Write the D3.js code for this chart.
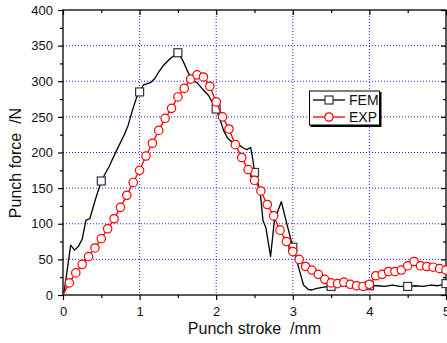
<!DOCTYPE html>
<html lang="en">
<head>
  <meta charset="utf-8" />
  <title>Punch force vs punch stroke</title>
  <style>
    html,body{margin:0;padding:0;background:#fff;}
    svg{display:block;font-family:"Liberation Sans",Arial,sans-serif;}
    .tick text{font-size:13px;fill:#111;}
  </style>
</head>
<body>
  <svg id="chart" width="447" height="343"></svg>
  <script src="https://d3js.org/d3.v7.min.js"></script>
  <script>
    // ————— DATA —————
    const femPoints = [
      [0,0],[0.02,8],[0.1,70],[0.15,63],[0.2,68],[0.25,78],[0.3,105],[0.35,107],[0.42,133],
      [0.5,160],[0.6,180],[0.7,203],[0.8,225],[0.85,238],[0.9,257],[0.96,277],[1.0,285],
      [1.05,295],[1.14,298],[1.2,304],[1.25,313],[1.31,322],[1.4,332],[1.5,340],[1.56,330],
      [1.64,311],[1.7,300],[1.75,298],[1.83,288],[1.9,280],[1.96,268],[2.0,261],[2.05,246],
      [2.1,230],[2.15,220],[2.18,217],[2.23,213],[2.29,211],[2.36,206],[2.4,204],[2.45,207],
      [2.48,189],[2.5,172],[2.55,155],[2.58,138],[2.61,105],[2.65,94],[2.71,54],[2.76,105],
      [2.85,131],[2.92,101],[3.0,67],[3.08,37],[3.14,14],[3.2,8],[3.25,7],[3.3,9],[3.4,11],
      [3.5,12],[3.6,13],[3.7,12],[3.8,13],[3.9,12],[4.0,13],[4.1,13],[4.2,12],[4.3,14],
      [4.4,12],[4.5,12],[4.6,13],[4.7,12],[4.8,14],[4.9,13],[5.0,16]
    ];
    const expPoints = [
      [0,0],[0.083,17],[0.167,31],[0.25,43],[0.333,54],[0.417,66],[0.5,79],[0.583,93],
      [0.667,107],[0.75,123],[0.833,140],[0.917,158],[1.0,175],[1.083,195],[1.167,213],
      [1.25,231],[1.333,248],[1.417,262],[1.5,278],[1.583,290],[1.667,303],[1.75,309],
      [1.833,306],[1.917,293],[2.0,271],[2.083,250],[2.167,233],[2.25,211],[2.333,193],
      [2.417,176],[2.5,161],[2.583,146],[2.667,127],[2.75,111],[2.833,91],[2.917,75],
      [3.0,61],[3.083,50],[3.167,40],[3.25,35],[3.333,29],[3.417,22],[3.5,17],[3.583,16],
      [3.667,18],[3.75,15],[3.833,13],[3.917,12],[4.0,15],[4.083,27],[4.167,29],[4.25,33],
      [4.333,33],[4.417,35],[4.5,41],[4.583,47],[4.667,41],[4.75,40],[4.833,39],[4.917,37],
      [5.0,35]
    ];
    const xTicks = [0,1,2,3,4,5];
    const xMinor = [0.5,1.5,2.5,3.5,4.5];
    const yTicks = [0,50,100,150,200,250,300,350,400];
    const yMinor = [25,75,125,175,225,275,325,375];
    const seriesNames = ['FEM','EXP'];

    // ————— LAYOUT —————
    const L=63, R=446, T=10, B=295;
    const svg = d3.select('#chart');
    const x = d3.scaleLinear().domain([0,5]).range([L,R]);
    const y = d3.scaleLinear().domain([0,400]).range([B,T]);

    // grid
    const grid = svg.append('g').attr('stroke','#2222ff').attr('stroke-width',1).attr('stroke-dasharray','1,2');
    grid.selectAll('.gx').data(xTicks.slice(1,-1)).join('line')
      .attr('x1',d=>x(d)).attr('x2',d=>x(d)).attr('y1',T).attr('y2',B);
    grid.selectAll('.gy').data(yTicks.slice(1,-1)).join('line')
      .attr('x1',L).attr('x2',R).attr('y1',d=>y(d)).attr('y2',d=>y(d));

    // axes
    const styleAxis = g=>{g.select('.domain').remove();g.selectAll('line').attr('stroke','#000').attr('stroke-width',1.2);};
    svg.append('g').attr('transform',`translate(0,${B})`)
      .call(d3.axisBottom(x).tickValues(xTicks).tickFormat(d3.format('d')).tickSize(5).tickPadding(7)).call(styleAxis);
    svg.append('g').attr('transform',`translate(0,${B})`)
      .call(d3.axisBottom(x).tickValues(xMinor).tickFormat('').tickSize(3)).call(styleAxis);
    svg.append('g').attr('transform',`translate(${L},0)`)
      .call(d3.axisLeft(y).tickValues(yTicks).tickFormat(d3.format('d')).tickSize(5).tickPadding(5)).call(styleAxis);
    svg.append('g').attr('transform',`translate(${L},0)`)
      .call(d3.axisLeft(y).tickValues(yMinor).tickFormat('').tickSize(3)).call(styleAxis);
    // mirrored inward ticks
    svg.append('g').attr('transform',`translate(0,${T})`)
      .call(d3.axisBottom(x).tickValues(xTicks).tickFormat('').tickSize(5)).call(styleAxis);
    svg.append('g').attr('transform',`translate(0,${T})`)
      .call(d3.axisBottom(x).tickValues(xMinor).tickFormat('').tickSize(3)).call(styleAxis);
    svg.append('g').attr('transform',`translate(${R},0)`)
      .call(d3.axisLeft(y).tickValues(yTicks).tickFormat('').tickSize(5)).call(styleAxis);
    svg.append('g').attr('transform',`translate(${R},0)`)
      .call(d3.axisLeft(y).tickValues(yMinor).tickFormat('').tickSize(3)).call(styleAxis);

    // frame
    svg.append('rect').attr('x',L).attr('y',T).attr('width',R-L).attr('height',B-T)
      .attr('fill','none').attr('stroke','#000').attr('stroke-width',1.3);

    // titles
    svg.append('text').attr('x',(L+R)/2).attr('y',334).attr('text-anchor','middle')
      .attr('font-size',16).attr('fill','#111').attr('xml:space','preserve').text('Punch stroke  /mm');
    svg.append('text').attr('transform','translate(20.5,163) rotate(-90)').attr('text-anchor','middle')
      .attr('font-size',16).attr('fill','#111').attr('xml:space','preserve').text('Punch force  /N');

    // series
    const line = d3.line().x(d=>x(d[0])).y(d=>y(d[1]));
    const onHalf = d=>d[0]>0 && Math.abs(d[0]*2-Math.round(d[0]*2))<1e-6;

    svg.append('path').datum(femPoints).attr('d',line)
      .attr('fill','none').attr('stroke','#000').attr('stroke-width',1.3).attr('stroke-linejoin','round');
    svg.selectAll('.fem').data(femPoints.filter(onHalf)).join('rect')
      .attr('x',d=>x(d[0])-4).attr('y',d=>y(d[1])-4).attr('width',8).attr('height',8)
      .attr('fill','#fff').attr('stroke','#333').attr('stroke-width',1.2);

    svg.append('path').datum(expPoints).attr('d',line)
      .attr('fill','none').attr('stroke','#ff0000').attr('stroke-width',1.3);
    svg.selectAll('.exp').data(expPoints.filter(d=>d[0]>0)).join('circle')
      .attr('cx',d=>x(d[0])).attr('cy',d=>y(d[1])).attr('r',4.2)
      .attr('fill','#fff').attr('stroke','#ff0000').attr('stroke-width',1.2);

    // legend
    const lg = svg.append('g');
    lg.append('rect').attr('x',310.5).attr('y',92).attr('width',71).attr('height',35).attr('fill','#000');
    lg.append('rect').attr('x',309.5).attr('y',91).attr('width',70).attr('height',34)
      .attr('fill','#fff').attr('stroke','#000').attr('stroke-width',1);
    const items = lg.selectAll('.item').data(seriesNames).join('g')
      .attr('transform',(d,i)=>`translate(0,${100+i*17})`);
    items.append('line').attr('x1',313).attr('x2',345).attr('y1',0).attr('y2',0)
      .attr('stroke',(d,i)=>i?'#ff0000':'#000').attr('stroke-width',1.3);
    items.filter((d,i)=>i===0).append('rect').attr('x',325).attr('y',-4).attr('width',8).attr('height',8)
      .attr('fill','#fff').attr('stroke','#333').attr('stroke-width',1.2);
    items.filter((d,i)=>i===1).append('circle').attr('cx',329).attr('cy',0).attr('r',4.2)
      .attr('fill','#fff').attr('stroke','#ff0000').attr('stroke-width',1.2);
    items.append('text').attr('x',349).attr('y',5).attr('font-size',14).attr('fill','#111').text(d=>d);
  </script>
</body>
</html>
